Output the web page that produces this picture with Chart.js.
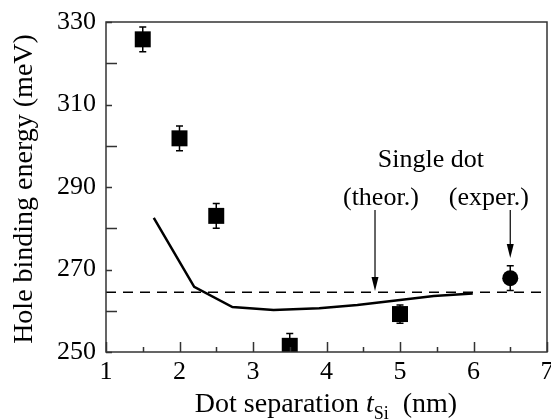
<!DOCTYPE html>
<html>
<head>
<meta charset="utf-8">
<script src="https://cdn.jsdelivr.net/npm/chart.js@4.4.0/dist/chart.umd.min.js"></script>
<style>
  html, body { margin: 0; padding: 0; background: #fff; }
</style>
</head>
<body>
<canvas id="bindingChart" width="551" height="420"></canvas>
<script>
// measured points (squares), error bars in meV
var separation = [1.5, 2, 2.5, 3.5, 5];
var energy = [325.8, 301.8, 283.0, 251.5, 259.2];
var energyErr = [3, 3, 3, 3, 2.2];

// single dot experiment (circle)
var singleX = [6.5];
var singleY = [267.9];
var singleErr = [3];

// theory curve
var theoryX = [1.65, 2.2, 2.72, 3.28, 3.9, 4.42, 5.0, 5.46, 5.99];
var theoryY = [282.5, 265.8, 260.9, 260.2, 260.6, 261.4, 262.6, 263.6, 264.2];

// single dot theory level (dashed)
var singleTheory = 264.5;

var xRange = [1, 7];
var yRange = [250, 330];

var serif = "'Liberation Serif', 'DejaVu Serif', serif";

function pts(xs, ys) {
  return xs.map(function (x, i) { return { x: x, y: ys[i] }; });
}

// frame + inward ticks (major and minor)
var framePlugin = {
  id: "frame",
  afterDraw: function (chart) {
    var ctx = chart.ctx;
    var a = chart.chartArea;
    var xs = chart.scales.x;
    var ys = chart.scales.y;
    ctx.save();
    ctx.strokeStyle = "#333";
    ctx.lineWidth = 1.5;
    ctx.strokeRect(a.left, a.top, a.right - a.left, a.bottom - a.top);
    ctx.beginPath();
    for (var v = xRange[0]; v <= xRange[1]; v += 0.5) {
      var px = Math.round(xs.getPixelForValue(v)) + 0.5;
      var len = v % 1 === 0 ? 10 : 5;
      ctx.moveTo(px, a.bottom);
      ctx.lineTo(px, a.bottom - len);
    }
    for (var w = yRange[0]; w <= yRange[1]; w += 10) {
      var py = Math.round(ys.getPixelForValue(w)) + 0.5;
      var l2 = w % 20 === 10 ? 6 : 11;
      ctx.moveTo(a.left, py);
      ctx.lineTo(a.left + l2, py);
    }
    ctx.stroke();
    ctx.restore();
  }
};

// vertical error bars with small caps
var errorPlugin = {
  id: "errorBars",
  beforeDatasetsDraw: function (chart) {
    var ctx = chart.ctx;
    var a = chart.chartArea;
    var ys = chart.scales.y;
    ctx.save();
    ctx.beginPath();
    ctx.rect(a.left, a.top, a.right - a.left, a.bottom - a.top);
    ctx.clip();
    ctx.strokeStyle = "#000";
    ctx.lineWidth = 1.5;
    chart.data.datasets.forEach(function (ds, i) {
      if (!ds.errors) return;
      var meta = chart.getDatasetMeta(i);
      meta.data.forEach(function (el, j) {
        var d = ds.data[j];
        var top = ys.getPixelForValue(d.y + ds.errors[j]);
        var bot = ys.getPixelForValue(d.y - ds.errors[j]);
        ctx.beginPath();
        ctx.moveTo(el.x, top);
        ctx.lineTo(el.x, bot);
        ctx.moveTo(el.x - 3.5, top);
        ctx.lineTo(el.x + 3.5, top);
        ctx.moveTo(el.x - 3.5, bot);
        ctx.lineTo(el.x + 3.5, bot);
        ctx.stroke();
      });
    });
    ctx.restore();
  }
};

// labels, arrows and axis titles
var notes = [
  { text: "Single dot", x: 5.42, y: 296.5 },
  { text: "(theor.)", x: 4.74, y: 287.3 },
  { text: "(exper.)", x: 6.21, y: 287.3 }
];
var arrows = [
  { x: 4.66, from: 284.4, to: 264.8 },
  { x: 6.5, from: 284.4, to: 272.8 }
];

var notesPlugin = {
  id: "notes",
  afterDraw: function (chart) {
    var ctx = chart.ctx;
    var xs = chart.scales.x;
    var ys = chart.scales.y;
    ctx.save();
    ctx.fillStyle = "#000";
    ctx.strokeStyle = "#000";
    ctx.font = "26px " + serif;
    ctx.textAlign = "center";
    ctx.textBaseline = "middle";
    notes.forEach(function (n) {
      ctx.fillText(n.text, xs.getPixelForValue(n.x), ys.getPixelForValue(n.y));
    });

    ctx.lineWidth = 1.2;
    arrows.forEach(function (ar) {
      var px = xs.getPixelForValue(ar.x);
      var y1 = ys.getPixelForValue(ar.from);
      var y2 = ys.getPixelForValue(ar.to);
      ctx.beginPath();
      ctx.moveTo(px, y1);
      ctx.lineTo(px, y2 - 10);
      ctx.stroke();
      ctx.beginPath();
      ctx.moveTo(px, y2);
      ctx.lineTo(px - 3.5, y2 - 14);
      ctx.lineTo(px + 3.5, y2 - 14);
      ctx.closePath();
      ctx.fill();
    });

    // y title
    ctx.save();
    ctx.translate(25, 189);
    ctx.rotate(-Math.PI / 2);
    ctx.font = "28px " + serif;
    ctx.fillText("Hole binding energy (meV)", 0, 0);
    ctx.restore();

    // x title with italic t and subscript Si
    var parts = [
      { t: "Dot separation ", f: "28px " + serif, dy: 0 },
      { t: "t", f: "italic 28px " + serif, dy: 0 },
      { t: "Si", f: "18px " + serif, dy: 7 },
      { t: "  (nm)", f: "28px " + serif, dy: 0 }
    ];
    var total = 0;
    parts.forEach(function (p) { ctx.font = p.f; p.w = ctx.measureText(p.t).width; total += p.w; });
    var cx = 326 - total / 2;
    ctx.textAlign = "left";
    ctx.textBaseline = "alphabetic";
    parts.forEach(function (p) {
      ctx.font = p.f;
      ctx.fillText(p.t, cx, 412 + p.dy);
      cx += p.w;
    });
    ctx.restore();
  }
};

var ctx = document.getElementById("bindingChart").getContext("2d");
var bindingChart = new Chart(ctx, {
  type: "scatter",
  data: {
    datasets: [
      {
        type: "line",
        data: pts(xRange, [singleTheory, singleTheory]),
        borderColor: "#000",
        borderWidth: 1.5,
        borderDash: [10, 7],
        pointRadius: 0,
        fill: false
      },
      {
        type: "line",
        data: pts(theoryX, theoryY),
        borderColor: "#000",
        borderWidth: 2.5,
        pointRadius: 0,
        tension: 0,
        fill: false
      },
      {
        data: pts(separation, energy),
        errors: energyErr,
        pointStyle: "rect",
        pointRadius: 11.3,
        backgroundColor: "#000",
        borderColor: "#000",
        borderWidth: 0
      },
      {
        data: pts(singleX, singleY),
        errors: singleErr,
        pointStyle: "circle",
        pointRadius: 8,
        backgroundColor: "#000",
        borderColor: "#000",
        borderWidth: 0
      }
    ]
  },
  options: {
    responsive: false,
    animation: false,
    devicePixelRatio: 1,
    layout: { autoPadding: false, padding: { top: 22, right: 4, bottom: 0, left: 0 } },
    plugins: {
      legend: { display: false },
      tooltip: { enabled: false }
    },
    scales: {
      x: {
        type: "linear",
        min: xRange[0],
        max: xRange[1],
        grid: { display: false, drawTicks: false },
        border: { display: false },
        ticks: {
          stepSize: 1,
          padding: 5,
          color: "#000",
          font: { family: serif, size: 26 },
          maxRotation: 0
        },
        afterFit: function (scale) {
          scale.height = 68;
          scale.paddingLeft = 0;
          scale.paddingRight = 0;
        }
      },
      y: {
        type: "linear",
        min: yRange[0],
        max: yRange[1],
        grid: { display: false, drawTicks: false },
        border: { display: false },
        ticks: {
          stepSize: 20,
          padding: 10,
          color: "#000",
          font: { family: serif, size: 26 }
        },
        afterFit: function (scale) {
          scale.width = 106;
          scale.paddingTop = 0;
          scale.paddingBottom = 0;
        }
      }
    }
  },
  plugins: [errorPlugin, framePlugin, notesPlugin]
});
</script>
</body>
</html>
